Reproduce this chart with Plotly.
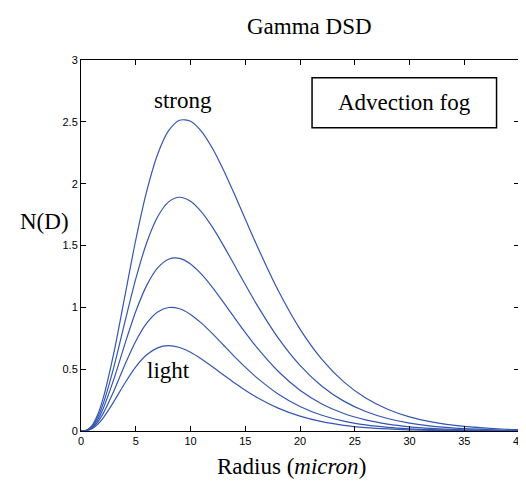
import plotly.graph_objects as go

# Radius (micron) sample positions
radius = [0, 0.5, 1, 1.5, 2, 3, 4, 5, 6, 7, 8, 9, 10, 11, 12, 13, 14, 15, 16,
          18, 20, 22, 24, 26, 28, 30, 32, 35, 38, 40]

# N(D) values, light -> strong
nd_light = [0, 0.0028, 0.0186, 0.0521, 0.1023, 0.2373, 0.3865, 0.5189, 0.6162, 0.6725,
            0.6900, 0.6752, 0.6366, 0.5823, 0.5196, 0.4541, 0.3898, 0.3295, 0.2748,
            0.1848, 0.1198, 0.0753, 0.0462, 0.0277, 0.0164, 0.0095, 0.0054, 0.0023, 0.0010, 0.0005]
nd_2 = [0, 0.0037, 0.0249, 0.0700, 0.1383, 0.3244, 0.5345, 0.7258, 0.8718, 0.9624,
        0.9986, 0.9884, 0.9425, 0.8720, 0.7871, 0.6956, 0.6040, 0.5164, 0.4356,
        0.2998, 0.1987, 0.1278, 0.0802, 0.0493, 0.0297, 0.0177, 0.0104, 0.0046, 0.0020, 0.0011]
nd_3 = [0, 0.0046, 0.0312, 0.0884, 0.1760, 0.4191, 0.7009, 0.9659, 1.1775, 1.3192,
        1.3893, 1.3956, 1.3506, 1.2682, 1.1617, 1.0420, 0.9182, 0.7968, 0.6822,
        0.4835, 0.3301, 0.2187, 0.1413, 0.0894, 0.0556, 0.0340, 0.0206, 0.0094, 0.0042, 0.0025]
nd_4 = [0, 0.0055, 0.0373, 0.1066, 0.2139, 0.5172, 0.8785, 1.2294, 1.5222, 1.7320,
        1.8526, 1.8900, 1.8577, 1.7717, 1.6481, 1.5014, 1.3437, 1.1842, 1.0298,
        0.7528, 0.5303, 0.3623, 0.2415, 0.1576, 0.1011, 0.0638, 0.0398, 0.0191, 0.0090, 0.0054]
nd_strong = [0, 0.0065, 0.0443, 0.1274, 0.2575, 0.6316, 1.0881, 1.5445, 1.9397, 2.2385,
             2.4285, 2.5132, 2.5053, 2.4235, 2.2865, 2.1129, 1.9179, 1.7145, 1.5124,
             1.1374, 0.8240, 0.5793, 0.3972, 0.2668, 0.1760, 0.1143, 0.0733, 0.0368, 0.0181, 0.0111]

series = [nd_light, nd_2, nd_3, nd_4, nd_strong]

x_ticks = [0, 5, 10, 15, 20, 25, 30, 35, 40]
y_ticks = [0, 0.5, 1, 1.5, 2, 2.5, 3]
y_tick_labels = ["0", "0.5", "1", "1.5", "2", "2.5", "3"]

LINE = "#3556b0"
SERIF = "Liberation Serif, Times New Roman, serif"
SANS = "Liberation Sans, Arial, sans-serif"

fig = go.Figure()
for s in series:
    fig.add_trace(go.Scatter(x=radius, y=s, mode="lines",
                             line=dict(color=LINE, width=1.2, shape="spline", smoothing=0.8),
                             showlegend=False, hoverinfo="skip"))

axis_common = dict(showline=True, linecolor="black", linewidth=1, mirror="ticks",
                   ticks="inside", ticklen=5, tickcolor="black", tickwidth=1,
                   showgrid=False, zeroline=False,
                   tickfont=dict(family=SANS, size=11, color="black"))

fig.update_xaxes(range=[0, 40], tickvals=x_ticks, ticktext=[str(v) for v in x_ticks],
                 **axis_common)
fig.update_yaxes(range=[0, 3], tickvals=y_ticks, ticktext=y_tick_labels, **axis_common)

fig.update_layout(
    width=526, height=482,
    margin=dict(l=73, r=9, t=52, b=59),
    paper_bgcolor="white", plot_bgcolor="white",
    showlegend=False,
)

def px_to_paper_x(px):
    return (px - 73) / (526 - 73 - 9)

def px_to_paper_y(py):
    return (482 - 59 - py) / (482 - 52 - 59)

texts = [
    ("Gamma DSD", 305, 19),
    ("Radius (<i>micron</i>)", 286, 459),
    ("N(D)", 36, 213),
]
for t, px, py in texts:
    fig.add_annotation(text=t, x=px_to_paper_x(px), y=px_to_paper_y(py),
                       xref="paper", yref="paper", showarrow=False,
                       xanchor="center", yanchor="middle",
                       font=dict(family=SERIF, size=23, color="black"))

# In-plot labels (data coordinates)
fig.add_annotation(text="strong", x=9.3, y=2.67, xref="x", yref="y", showarrow=False,
                   font=dict(family=SERIF, size=23, color="black"))
fig.add_annotation(text="light", x=8.0, y=0.49, xref="x", yref="y", showarrow=False,
                   font=dict(family=SERIF, size=23, color="black"))

# Legend-like box
fig.add_shape(type="rect", x0=21.1, x1=37.95, y0=2.452, y1=2.857, xref="x", yref="y",
              line=dict(color="black", width=1.5), fillcolor="white")
fig.add_annotation(text="Advection fog", x=29.5, y=2.66, xref="x", yref="y", showarrow=False,
                   font=dict(family=SERIF, size=23, color="black"))

fig.write_html("out.html")
